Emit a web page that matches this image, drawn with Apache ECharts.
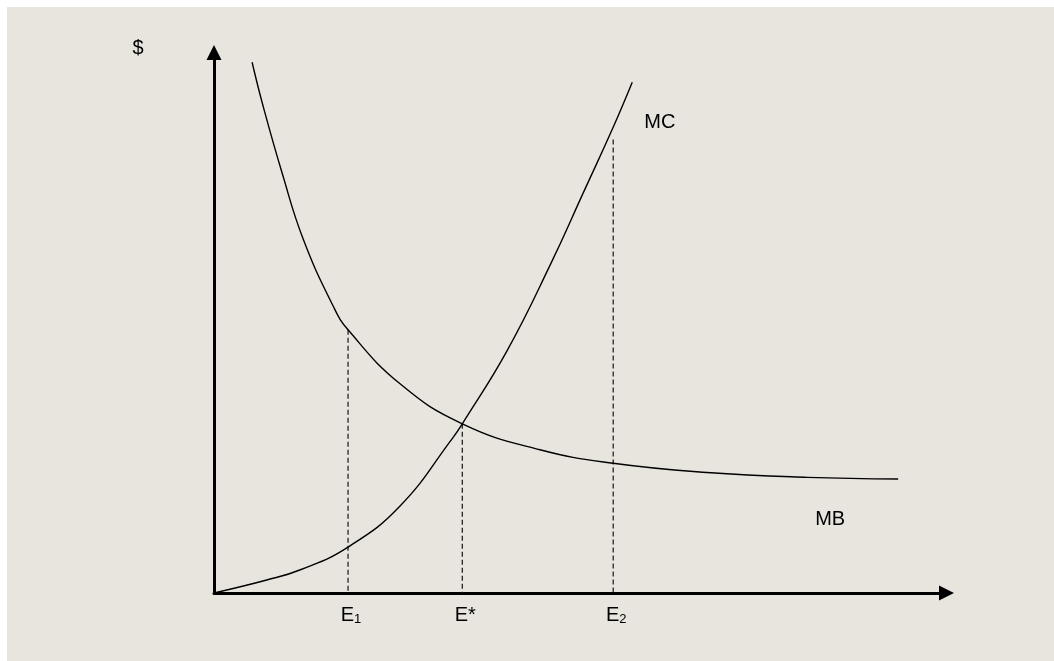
<!DOCTYPE html>
<html>
<head>
<meta charset="utf-8">
<title>MB / MC</title>
<script src="https://cdn.jsdelivr.net/npm/echarts@6/dist/echarts.min.js"></script>
<style>
  html, body { margin: 0; padding: 0; background: #fff; }
  #chart { position: absolute; left: 7px; top: 7px; width: 1047px; height: 654px; }
</style>
</head>
<body>
<div id="chart"></div>
<script>
// quantity on x (0..100), $ on y (0..100)
var mbX = [5.2, 6.7, 9.3, 12.2, 16.3, 18.3, 25.4, 33.9, 44.5, 54.5, 67.3, 81.0, 93.4];
var mbY = [98.2, 90.1, 77.7, 65.4, 53.0, 48.7, 38.7, 31.3, 26.5, 24.0, 22.3, 21.4, 21.1];
var mcX = [0, 7.2, 11.8, 18.3, 25.4, 32.6, 33.9, 40.0, 45.9, 50.5, 54.6, 57.1];
var mcY = [0, 2.4, 4.3, 8.5, 16.1, 28.7, 31.3, 44.8, 60.7, 74.3, 86.5, 94.5];

// dashed drop lines to the quantity axis
var dropX = [18.3, 33.9, 54.5];
var dropTop = [48.7, 31.3, 83.9];
var dropLabels = ['{e|E}{s|1}', '{e|E*}', '{e|E}{s|2}'];

var FONT = '"Liberation Sans", Arial, sans-serif';

function pairs(xs, ys) {
  return xs.map(function (x, i) { return [x, ys[i]]; });
}

var chart = echarts.init(document.getElementById('chart'));

var series = [
  {
    name: 'MB',
    type: 'line',
    smooth: 0.45,
    symbol: 'none',
    data: pairs(mbX, mbY),
    lineStyle: { color: '#000', width: 1.4 },
    endLabel: {
      show: true, formatter: 'MB', color: '#000',
      fontSize: 20, fontFamily: FONT, offset: [-91, 41]
    },
    z: 3
  },
  {
    name: 'MC',
    type: 'line',
    smooth: 0.45,
    symbol: 'none',
    data: pairs(mcX, mcY),
    lineStyle: { color: '#000', width: 1.4 },
    endLabel: {
      show: true, formatter: 'MC', color: '#000',
      fontSize: 20, fontFamily: FONT, offset: [4, 40]
    },
    z: 3
  }
];

dropX.forEach(function (x, i) {
  series.push({
    type: 'line',
    symbol: 'none',
    data: [[x, dropTop[i]], [x, 0]],
    lineStyle: { color: '#222', width: 1.3, type: [5, 3] },
    silent: true,
    z: 2
  });
});

var option = {
  backgroundColor: '#e8e5df',
  animation: false,
  grid: {
    left: 207, right: 107.5, top: 45.5, bottom: 68,
    containLabel: false, outerBoundsMode: 'none'
  },
  xAxis: {
    type: 'value', min: 0, max: 100,
    axisLine: {
      show: true, onZero: false,
      symbol: ['none', 'triangle'], symbolSize: [15, 15],
      lineStyle: { color: '#000', width: 3 }
    },
    axisTick: { show: false },
    splitLine: { show: false },
    axisLabel: {
      show: true,
      customValues: dropX,
      margin: 11,
      padding: [0, 0, 0, 6],
      formatter: function (v) {
        var i = dropX.indexOf(v);
        return i < 0 ? '' : dropLabels[i];
      },
      rich: {
        e: { fontSize: 20, fontFamily: FONT, color: '#000', lineHeight: 22 },
        s: { fontSize: 13, fontFamily: FONT, color: '#000', padding: [8, 0, 0, 0] }
      }
    }
  },
  yAxis: {
    type: 'value', min: 0, max: 100,
    name: '$',
    nameLocation: 'end',
    nameGap: -5.5,
    nameTextStyle: {
      color: '#000', fontSize: 20, fontFamily: FONT,
      padding: [0, 152, 0, 0]
    },
    axisLine: {
      show: true, onZero: false,
      symbol: ['none', 'triangle'], symbolSize: [15, 15],
      lineStyle: { color: '#000', width: 3 }
    },
    axisTick: { show: false },
    splitLine: { show: false },
    axisLabel: { show: false }
  },
  series: series
};

chart.setOption(option);
window.addEventListener('resize', function () {
  chart.resize();
});
</script>
</body>
</html>
